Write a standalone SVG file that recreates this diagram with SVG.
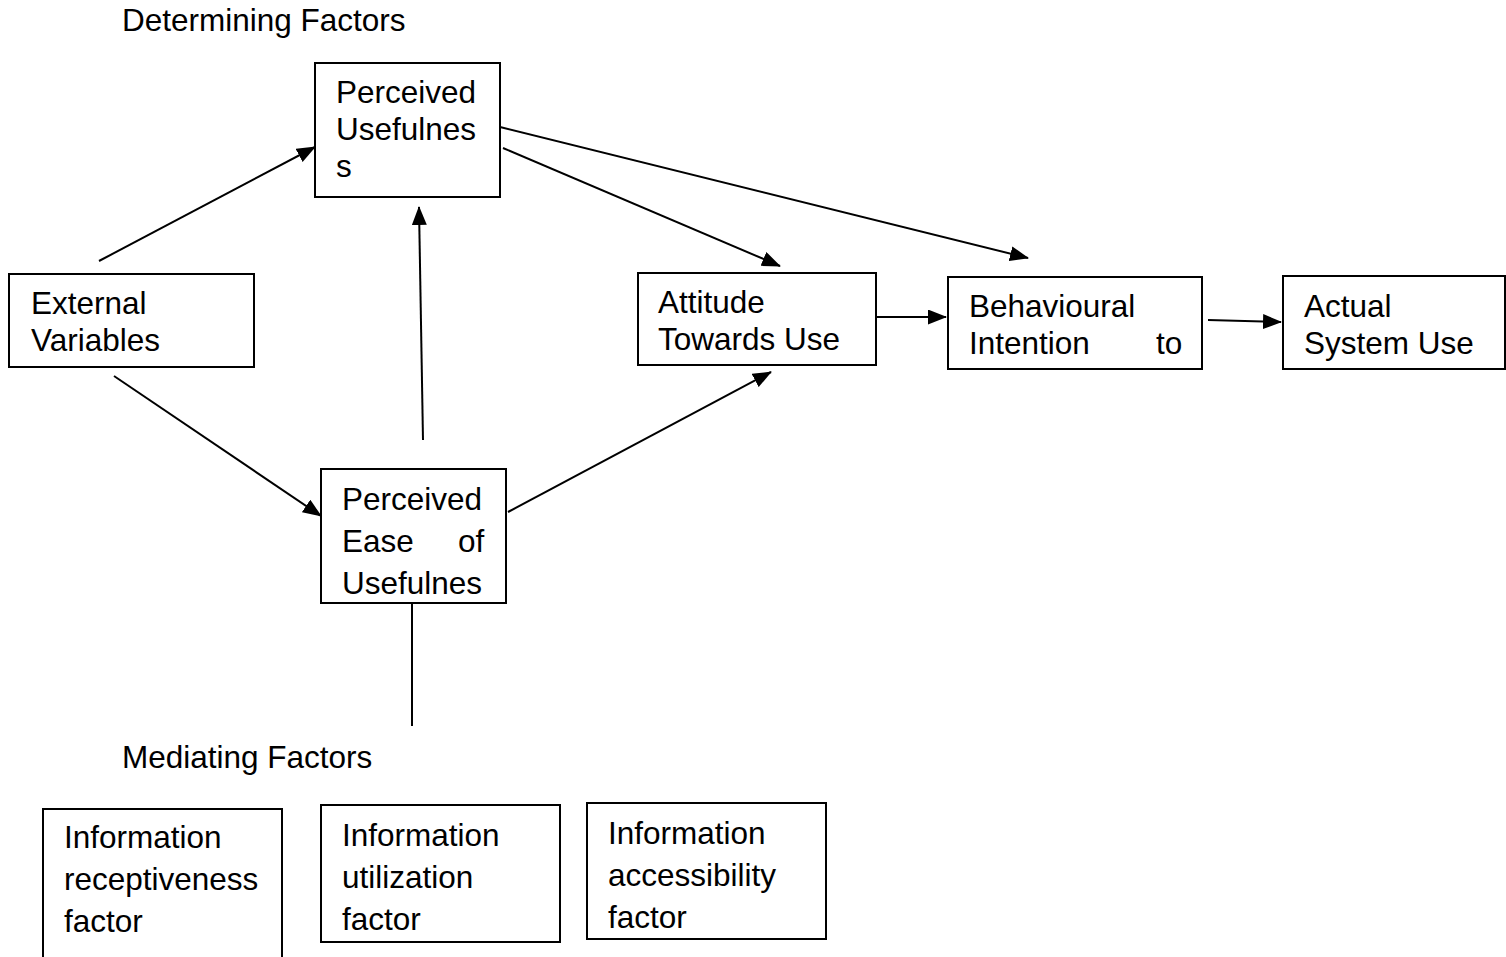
<svg xmlns="http://www.w3.org/2000/svg" width="1506" height="957" viewBox="0 0 1506 957">
<style>
.box{fill:#fff;stroke:#000;stroke-width:2}
.t{font-family:"Liberation Sans",Arial,sans-serif;font-size:31.5px;fill:#000}
.b{font-family:"Liberation Sans",Arial,sans-serif;font-size:31.5px;fill:#000}
.c{stroke:#000;stroke-width:2;fill:none}
</style>
<defs>
<marker id="arr" markerWidth="19" markerHeight="15" refX="18" refY="7.5" orient="auto" markerUnits="userSpaceOnUse" viewBox="0 0 19 15">
<path d="M0,0 L19,7.5 L0,15 z" fill="#000"/>
</marker>
</defs>
<rect width="1506" height="957" fill="#fff"/>
<text class="t" x="122" y="31">Determining Factors</text>
<text class="t" x="122" y="768">Mediating Factors</text>
<g id="connectors">
<line class="c" x1="99" y1="261" x2="315" y2="147" marker-end="url(#arr)"/>
<line class="c" x1="114" y1="376" x2="321" y2="516" marker-end="url(#arr)"/>
<line class="c" x1="423" y1="440" x2="419" y2="207" marker-end="url(#arr)"/>
<line class="c" x1="503" y1="148" x2="780" y2="266" marker-end="url(#arr)"/>
<line class="c" x1="500" y1="127" x2="1028" y2="258" marker-end="url(#arr)"/>
<line class="c" x1="508" y1="512" x2="771" y2="372" marker-end="url(#arr)"/>
<line class="c" x1="876" y1="317" x2="946" y2="317" marker-end="url(#arr)"/>
<line class="c" x1="1208" y1="320" x2="1281" y2="322" marker-end="url(#arr)"/>
<line class="c" x1="412" y1="603" x2="412" y2="726"/>
</g>
<g id="pu">
<rect class="box" x="315" y="63" width="185" height="134"/>
<text class="t" x="336" y="103">Perceived</text>
<text class="t" x="336" y="140">Usefulnes</text>
<text class="t" x="336" y="177">s</text>
</g>
<g id="ext">
<rect class="box" x="9" y="274" width="245" height="93"/>
<text class="t" x="31" y="314">External</text>
<text class="t" x="31" y="351">Variables</text>
</g>
<g id="att">
<rect class="box" x="638" y="273" width="238" height="92"/>
<text class="t" x="658" y="313">Attitude</text>
<text class="t" x="658" y="350">Towards Use</text>
</g>
<g id="bi">
<rect class="box" x="948" y="277" width="254" height="92"/>
<text class="t" x="969" y="317">Behavioural</text>
<text class="t" x="969" y="354">Intention</text>
<text class="t" x="1156" y="354">to</text>
</g>
<g id="asu">
<rect class="box" x="1283" y="276" width="222" height="93"/>
<text class="t" x="1304" y="317">Actual</text>
<text class="t" x="1304" y="354">System Use</text>
</g>
<g id="pe">
<rect class="box" x="321" y="469" width="185" height="134"/>
<text class="t" x="342" y="510">Perceived</text>
<text class="t" x="342" y="552">Ease</text>
<text class="t" x="458" y="552">of</text>
<text class="t" x="342" y="594">Usefulnes</text>
</g>
<g id="m1">
<path class="c" d="M43,960 V809 H282 V960"/>
<text class="b" x="64" y="848">Information</text>
<text class="b" x="64" y="890">receptiveness</text>
<text class="b" x="64" y="932">factor</text>
</g>
<g id="m2">
<rect class="box" x="321" y="805" width="239" height="137"/>
<text class="b" x="342" y="846">Information</text>
<text class="b" x="342" y="888">utilization</text>
<text class="b" x="342" y="930">factor</text>
</g>
<g id="m3">
<rect class="box" x="587" y="803" width="239" height="136"/>
<text class="b" x="608" y="844">Information</text>
<text class="b" x="608" y="886">accessibility</text>
<text class="b" x="608" y="928">factor</text>
</g>
</svg>
